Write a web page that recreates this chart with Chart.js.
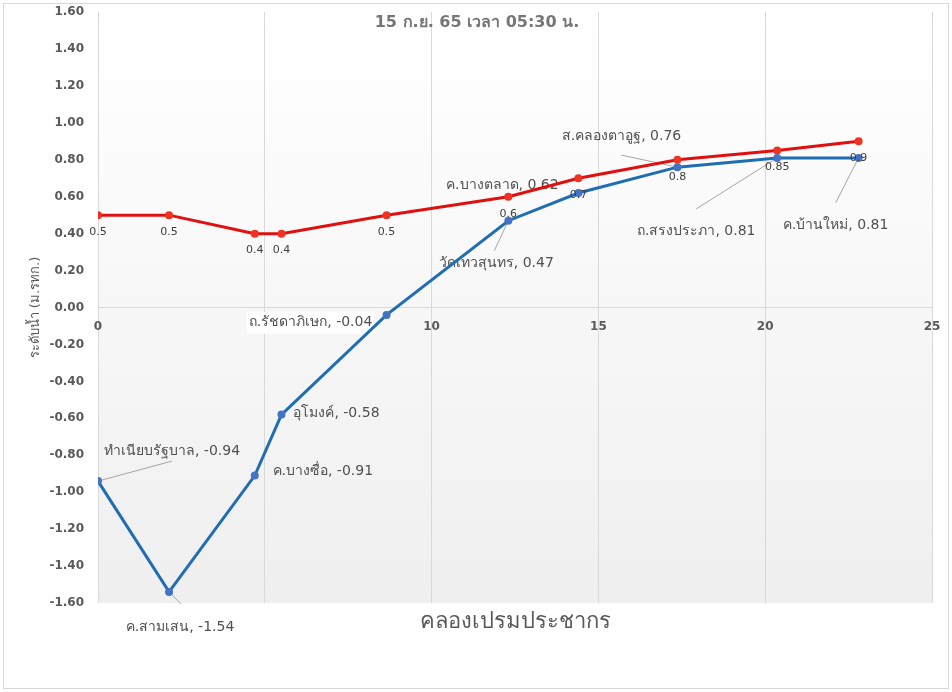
<!DOCTYPE html>
<html>
<head>
<meta charset="utf-8">
<script src="https://cdn.jsdelivr.net/npm/chart.js@4/dist/chart.umd.min.js"></script>
<style>
  html, body { margin: 0; padding: 0; background: #fff; }
  #wrap { width: 952px; height: 692px; }
</style>
</head>
<body>
<div id="wrap"><canvas id="c" width="952" height="692"></canvas></div>
<script>
// ระยะทาง (กม.) ตามคลองเปรมประชากร
const distKm = [0, 2.13, 4.7, 5.5, 8.65, 12.3, 14.4, 17.37, 20.36, 22.8];
const stationNames = ['ทำเนียบรัฐบาล', 'ค.สามเสน', 'ค.บางซื่อ', 'อุโมงค์', 'ถ.รัชดาภิเษก',
  'วัดเทวสุนทร', 'ค.บางตลาด', 'ส.คลองตาอูฐ', 'ถ.สรงประภา', 'ค.บ้านใหม่'];
const waterLevel = [-0.94, -1.54, -0.91, -0.58, -0.04, 0.47, 0.62, 0.76, 0.81, 0.81];
const bankLevel = [0.5, 0.5, 0.4, 0.4, 0.5, 0.6, 0.7, 0.8, 0.85, 0.9];
const xRange = [0, 25];
const yRange = [-1.6, 1.6];

const chartTitle = '15 ก.ย. 65 เวลา 05:30 น.';
const xTitle = 'คลองเปรมประชากร';
const yTitle = 'ระดับน้ำ (ม.รทก.)';

// ตำแหน่งป้ายชื่อสถานี (เทียบกับจุด) และปลายเส้นชี้
const labelPlace = [
  { dx: 74, dy: -30, lx: 74, ly: -20 },
  { dx: 11, dy: 35, lx: 12, ly: 12 },
  { dx: 68, dy: -4 },
  { dx: 55, dy: -1 },
  { dx: -76, dy: 7, bg: true },
  { dx: -12, dy: 43, lx: -14, ly: 30 },
  { dx: -76, dy: -8 },
  { dx: -56, dy: -31, lx: -56, ly: -12 },
  { dx: -81, dy: 73, lx: -81, ly: 51 },
  { dx: -23, dy: 67, lx: -23, ly: 45 }
];

const FONT = "'DejaVu Sans', 'Noto Sans', sans-serif";
const toXY = (ys) => distKm.map((x, i) => ({ x: x, y: ys[i] }));

const decorPlugin = {
  id: 'decor',
  beforeDraw(chart) {
    const { ctx, chartArea: { top, bottom, left, right } } = chart;
    ctx.save();
    ctx.fillStyle = '#fff';
    ctx.fillRect(0, 0, chart.width, chart.height);
    const g = ctx.createLinearGradient(0, top, 0, bottom);
    g.addColorStop(0, '#ffffff');
    g.addColorStop(1, '#efefef');
    ctx.fillStyle = g;
    ctx.fillRect(left, top, right - left, bottom - top);
    ctx.strokeStyle = '#d9d9d9';
    ctx.lineWidth = 1;
    ctx.strokeRect(3.5, 3.5, chart.width - 7, chart.height - 7);
    ctx.restore();
  },
  beforeDatasetsDraw(chart) {
    const { ctx } = chart;
    const blue = chart.getDatasetMeta(0).data;
    ctx.save();
    ctx.font = '14px ' + FONT;
    ctx.textAlign = 'center';
    ctx.textBaseline = 'middle';
    ctx.strokeStyle = '#a6a6a6';
    ctx.lineWidth = 1;
    blue.forEach((pt, i) => {
      const p = labelPlace[i];
      const txt = stationNames[i] + ', ' + waterLevel[i];
      const tx = pt.x + p.dx, ty = pt.y + p.dy;
      if (p.bg) {
        const w = ctx.measureText(txt).width;
        ctx.fillStyle = '#ffffff';
        ctx.fillRect(tx - w / 2 - 2, ty - 10, w + 4, 22);
      }
      if (p.lx !== undefined) {
        ctx.beginPath();
        ctx.moveTo(pt.x, pt.y);
        ctx.lineTo(pt.x + p.lx, pt.y + p.ly);
        ctx.stroke();
      }
      ctx.fillStyle = '#505050';
      ctx.fillText(txt, tx, ty);
    });
    ctx.restore();
  },
  afterDraw(chart) {
    const { ctx, chartArea: { left, right, bottom } } = chart;
    ctx.save();
    // ชื่อกราฟ
    ctx.fillStyle = '#767676';
    ctx.font = 'bold 16px ' + FONT;
    ctx.textAlign = 'center';
    ctx.textBaseline = 'middle';
    ctx.fillText(chartTitle, 477, 23);
    // ชื่อแกน x
    ctx.fillStyle = '#595959';
    ctx.font = '22px ' + FONT;
    ctx.fillText(xTitle, (left + right) / 2, bottom + 19);

    // ป้ายค่าตลิ่ง
    const red = chart.getDatasetMeta(1).data;
    ctx.fillStyle = '#404040';
    ctx.font = '11px ' + FONT;
    red.forEach((pt, i) => {
      ctx.fillText(String(bankLevel[i]), pt.x, pt.y + 17);
    });
    ctx.restore();
  }
};

new Chart(document.getElementById('c'), {
  type: 'scatter',
  data: {
    datasets: [
      {
        label: 'ระดับน้ำ',
        data: toXY(waterLevel),
        showLine: true,
        borderColor: '#1f6db3',
        borderWidth: 3,
        pointRadius: 2.5,
        pointBackgroundColor: '#4472c4',
        pointBorderColor: '#4472c4'
      },
      {
        label: 'ระดับตลิ่ง',
        data: toXY(bankLevel),
        showLine: true,
        borderColor: '#e01010',
        borderWidth: 3,
        pointRadius: 2.5,
        pointBackgroundColor: '#ee3322',
        pointBorderColor: '#ee3322'
      }
    ]
  },
  options: {
    responsive: false,
    animation: false,
    devicePixelRatio: 1,
    layout: { padding: { top: 12, right: 20, bottom: 89, left: 0 } },
    plugins: {
      legend: { display: false },
      tooltip: { enabled: false }
    },
    scales: {
      x: {
        type: 'linear',
        position: { y: 0 },
        min: xRange[0],
        max: xRange[1],
        afterFit(s) { s.paddingLeft = 0; s.paddingRight = 0; s.paddingTop = 0; s.paddingBottom = 0; },
        ticks: {
          stepSize: 5,
          padding: 12,
          color: '#595959',
          font: { family: FONT, size: 12, weight: 'bold' }
        },
        grid: { color: '#d9d9d9', drawTicks: false },
        border: { display: true, color: '#d9d9d9' }
      },
      y: {
        min: yRange[0],
        max: yRange[1],
        afterFit(s) { s.width = 98; s.paddingTop = 0; s.paddingBottom = 0; },
        ticks: {
          stepSize: 0.2,
          padding: 14,
          color: '#595959',
          font: { family: FONT, size: 12, weight: 'bold' },
          callback: (v) => Number(v).toFixed(2)
        },
        grid: { display: false, drawTicks: false },
        border: { display: false },
        title: {
          display: true,
          text: yTitle,
          color: '#595959',
          font: { family: FONT, size: 13 },
          padding: { top: 28, bottom: 0 }
        }
      }
    }
  },
  plugins: [decorPlugin]
});
</script>
</body>
</html>
